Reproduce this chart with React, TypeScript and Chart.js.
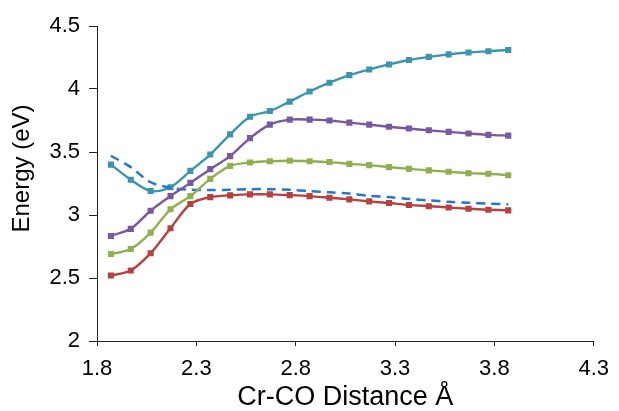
import React, { useEffect, useRef } from "react";
import { Chart, registerables } from "chart.js";

Chart.register(...registerables);

// Cr-CO distance (Å) of each computed point
const distances = [
  1.87, 1.97, 2.07, 2.17, 2.27, 2.37, 2.47, 2.57, 2.67, 2.77, 2.87,
  2.97, 3.07, 3.17, 3.27, 3.37, 3.47, 3.57, 3.67, 3.77, 3.87,
];

const tealSeries = [
  3.40, 3.28, 3.19, 3.22, 3.35, 3.48, 3.64, 3.78, 3.825, 3.90, 3.98,
  4.05, 4.11, 4.155, 4.195, 4.23, 4.255, 4.275, 4.29, 4.30, 4.31,
];
const purpleSeries = [
  2.834, 2.89, 3.034, 3.15, 3.255, 3.364, 3.467, 3.61, 3.717, 3.757, 3.757,
  3.75, 3.733, 3.717, 3.70, 3.686, 3.672, 3.66, 3.647, 3.636, 3.63,
];
const greenSeries = [
  2.69, 2.73, 2.86, 3.045, 3.15, 3.287, 3.39, 3.417, 3.427, 3.43, 3.427,
  3.42, 3.406, 3.396, 3.38, 3.366, 3.354, 3.343, 3.332, 3.327, 3.316,
];
const redSeries = [
  2.52, 2.56, 2.697, 2.895, 3.087, 3.142, 3.156, 3.164, 3.164, 3.158, 3.15,
  3.137, 3.124, 3.108, 3.095, 3.08, 3.07, 3.06, 3.05, 3.042, 3.037,
];
const dashedSeries = [
  3.47, 3.38, 3.26, 3.216, 3.20, 3.198, 3.20, 3.205, 3.205, 3.20, 3.19,
  3.18, 3.17, 3.153, 3.142, 3.127, 3.116, 3.105, 3.097, 3.09, 3.085,
];

const xTicks = [1.8, 2.3, 2.8, 3.3, 3.8, 4.3];
const yTicks = [2, 2.5, 3, 3.5, 4, 4.5];

const xTitle = "Cr-CO Distance Å";
const yTitle = "Energy (eV)";

const FONT = "'Liberation Sans', Arial, sans-serif";

const toPoints = (ys: number[]) => ys.map((y, i) => ({ x: distances[i], y }));

const yTitlePlugin = {
  id: "yTitlePlugin",
  afterDraw(chart: any) {
    const { ctx, chartArea } = chart;
    ctx.save();
    ctx.font = `24px ${FONT}`;
    ctx.fillStyle = "#000";
    ctx.textAlign = "center";
    ctx.textBaseline = "middle";
    ctx.translate(22, (chartArea.top + chartArea.bottom) / 2 - 15);
    ctx.rotate(-Math.PI / 2);
    ctx.fillText(yTitle, 0, 0);
    ctx.restore();
  },
};

export default function App() {
  const ref = useRef<HTMLCanvasElement | null>(null);

  useEffect(() => {
    if (!ref.current) return;
    const markerSeries = (data: number[], color: string) => ({
      data: toPoints(data),
      borderColor: color,
      backgroundColor: color,
      borderWidth: 2.4,
      pointStyle: "rect" as const,
      pointRadius: 4.3,
      pointBorderWidth: 0,
      pointBackgroundColor: color,
      tension: 0.3,
      showLine: true,
    });
    const chart = new Chart(ref.current, {
      type: "scatter",
      data: {
        datasets: [
          markerSeries(redSeries, "#B5423F"),
          markerSeries(greenSeries, "#90B050"),
          markerSeries(purpleSeries, "#7858A0"),
          {
            data: toPoints(dashedSeries),
            borderColor: "#2079CF",
            backgroundColor: "#2079CF",
            borderWidth: 2.5,
            borderDash: [9, 6],
            pointRadius: 0,
            tension: 0.3,
            showLine: true,
          },
          markerSeries(tealSeries, "#3B95AE"),
        ],
      },
      options: {
        responsive: false,
        animation: false,
        layout: { padding: { top: 26, right: 19, left: 0, bottom: 0 } },
        plugins: {
          legend: { display: false },
          tooltip: { enabled: false },
        },
        scales: {
          x: {
            type: "linear",
            min: 1.8,
            max: 4.3,
            afterBuildTicks: (scale: any) => {
              scale.ticks = xTicks.map((v) => ({ value: v }));
            },
            afterFit: (scale: any) => {
              scale.height = 70;
            },
            grid: {
              display: true,
              drawOnChartArea: false,
              drawTicks: true,
              tickLength: 5,
              color: "#222",
            },
            border: { display: true, color: "#222", width: 1 },
            ticks: {
              color: "#000",
              padding: 10,
              font: { family: FONT, size: 22 },
              callback: (v: any) => String(v),
            },
            title: {
              display: true,
              text: xTitle,
              color: "#000",
              font: { family: FONT, size: 27, lineHeight: 1 },
              padding: { top: 0, bottom: 0 },
            },
          },
          y: {
            type: "linear",
            min: 2,
            max: 4.5,
            afterBuildTicks: (scale: any) => {
              scale.ticks = yTicks.map((v) => ({ value: v }));
            },
            afterFit: (scale: any) => {
              scale.width = 97;
            },
            grid: {
              display: true,
              drawOnChartArea: false,
              drawTicks: true,
              tickLength: 8,
              color: "#222",
            },
            border: { display: true, color: "#222", width: 1 },
            ticks: {
              color: "#000",
              padding: 9,
              font: { family: FONT, size: 22 },
              callback: (v: any) => String(v),
            },
            title: { display: false },
          },
        },
      },
      plugins: [yTitlePlugin],
    });
    return () => chart.destroy();
  }, []);

  return (
    <div style={{ position: "fixed", left: 0, top: 0, width: 619, height: 411, background: "#fff" }}>
      <canvas ref={ref} width={619} height={411} style={{ display: "block" }} />
    </div>
  );
}
